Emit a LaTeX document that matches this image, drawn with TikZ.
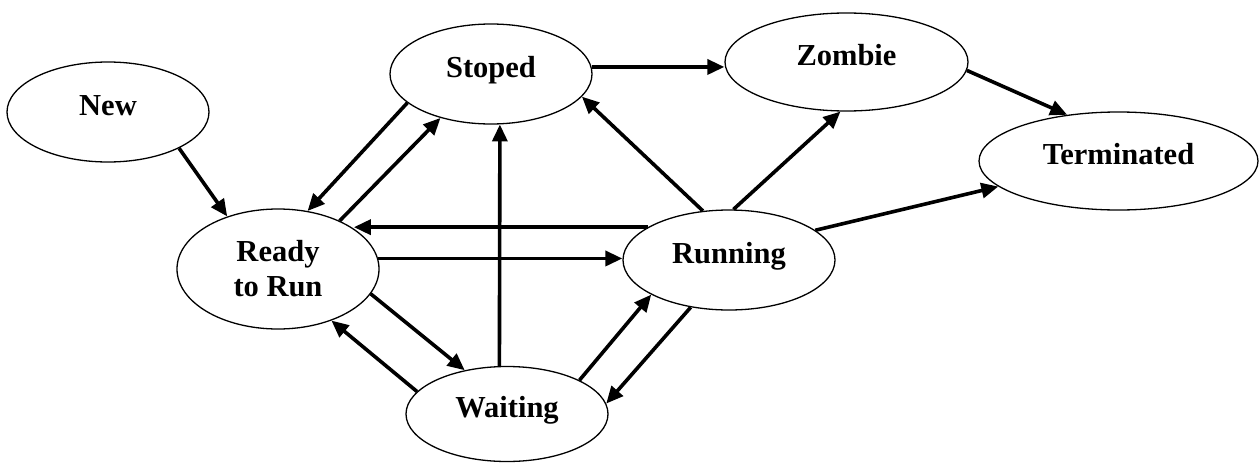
\documentclass[tikz,border=0pt]{standalone}
\usepackage{fontspec}
\setmainfont{Liberation Serif}
\usetikzlibrary{arrows.meta,shapes.geometric}
\begin{document}
\begin{tikzpicture}[x=1pt,y=-1pt,
  state/.style={draw=black, line width=1.3pt, ellipse, inner sep=0pt,
    font=\fontsize{30.5}{35}\selectfont\bfseries},
  oneline/.style={text height=20pt, text depth=14pt},
  conn/.style={line width=3.6pt, -{Triangle[length=17pt,width=15pt]}}]
\useasboundingbox (0,0) rectangle (1260,463);
\node[state, oneline, minimum width=202pt, minimum height=100pt] (new) at (108,112) {New};
\node[state, oneline, minimum width=202pt, minimum height=100pt] (stoped) at (491,74) {Stoped};
\node[state, oneline, minimum width=243pt, minimum height=98pt] (zombie) at (846.5,62) {Zombie};
\node[state, oneline, minimum width=279pt, minimum height=98pt] (terminated) at (1118.5,161) {Terminated};
\node[state, align=center, minimum width=202pt, minimum height=120pt] (ready) at (278,269) {Ready\\to Run};
\node[state, oneline, minimum width=212pt, minimum height=100pt] (running) at (729,260) {Running};
\node[state, oneline, minimum width=202pt, minimum height=95pt] (waiting) at (507,414) {Waiting};

\draw[conn] (new.-27.9) -- (ready.134.5);
\draw[conn] (stoped.199.7) -- (ready.63.4);
\draw[conn] (ready.38.5) -- (stoped.221.2);
\draw[conn] (running.158.4) -- (ready.28 |- running.158.4);
\draw[conn] (ready.6.8) -- (ready.6.8 -| running.west);
\draw[conn] (ready.-15.8) -- (waiting.134.3);
\draw[conn] (waiting.166.9) -- (ready.-44.5);
\draw[conn] (waiting.99.6) -- (stoped.-80.9);
\draw[conn] (stoped.4) -- (stoped.4 -| zombie.west);
\draw[conn] (running.118.4) -- (stoped.-14);
\draw[conn] (running.85.2) -- (zombie.-97.7);
\draw[conn] (zombie.-4.4) -- (terminated.138.5);
\draw[conn] (running.19.9) -- (terminated.192.2);
\draw[conn] (waiting.25.9) -- (running.204.5);
\draw[conn] (running.231.8) -- (waiting.6.4);
\end{tikzpicture}
\end{document}
